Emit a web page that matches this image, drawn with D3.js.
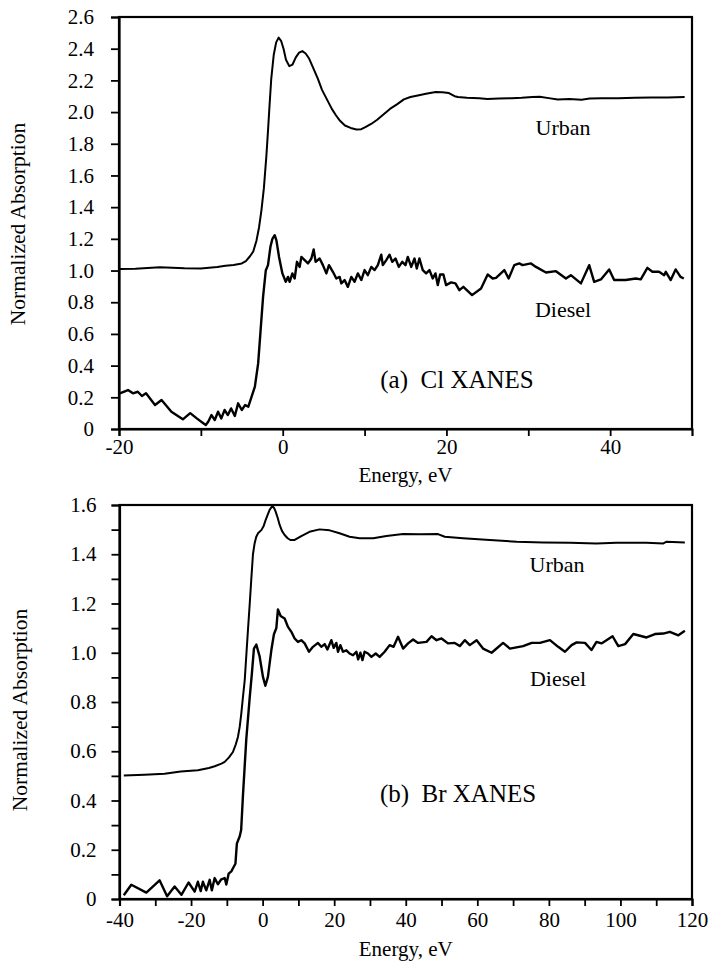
<!DOCTYPE html>
<html><head><meta charset="utf-8">
<script src="https://cdn.jsdelivr.net/npm/d3@7"></script>
<style>
html,body{margin:0;padding:0;background:#fff;}
svg{display:block;}
text{font-family:"Liberation Serif","DejaVu Serif",serif;fill:#000;}
</style></head>
<body>
<script>
// ---------------- DATA ----------------
// Panel (a) Cl XANES
const clUrbanE = [-19.9,-18,-15,-12,-10,-8,-7,-6,-5,-4.5,-4.0,-3.6,-3.2,-2.9,-2.6,-2.3,-2.0,-1.8,-1.6,-1.4,-1.1,-0.8,-0.5,-0.2,0.1,0.4,0.8,1.2,1.6,2.0,2.4,2.8,3.2,3.8,4.3,4.8,5.4,6.0,6.5,7.0,7.6,8.3,9.0,9.6,10.1,10.8,11.5,12.3,13.1,14,14.8,15.6,16.5,17.5,18.7,19.5,20.3,21,21.4,22.5,24,25,26.4,28,29.2,30.5,31.4,32.5,33.6,35,36.5,37.5,39,41,43,45,47,49.1];
const clUrbanA = [1.01,1.012,1.02,1.014,1.013,1.022,1.03,1.035,1.045,1.06,1.09,1.12,1.19,1.27,1.38,1.52,1.72,1.88,2.05,2.21,2.36,2.44,2.47,2.45,2.40,2.33,2.29,2.30,2.345,2.375,2.385,2.37,2.34,2.27,2.21,2.14,2.08,2.02,1.98,1.945,1.915,1.90,1.89,1.892,1.905,1.925,1.95,1.985,2.02,2.05,2.08,2.095,2.105,2.115,2.127,2.125,2.12,2.10,2.095,2.09,2.088,2.082,2.085,2.088,2.09,2.095,2.097,2.088,2.08,2.082,2.078,2.085,2.087,2.088,2.09,2.092,2.092,2.095];
const clDieselE = [-19.9,-18.9,-18.3,-17.7,-17.2,-16.7,-15.6,-14.8,-13.6,-12.2,-11.3,-10.5,-9.7,-9.4,-9.1,-8.7,-8.3,-7.9,-7.5,-7.1,-6.7,-6.3,-5.85,-5.45,-5.0,-4.6,-4.2,-3.8,-3.4,-3.0,-2.7,-2.4,-2.07,-1.8,-1.5,-1.26,-0.98,-0.77,-0.45,-0.04,0.37,0.65,0.85,1.18,1.46,1.74,2.07,2.28,2.68,3.09,3.5,3.78,4.02,4.51,4.91,5.33,5.65,6.13,6.55,6.95,7.16,7.56,7.96,8.38,8.78,9.18,9.6,10.0,10.4,10.82,11.22,11.62,12.04,12.23,12.65,13.05,13.38,13.78,14.18,14.6,15.0,15.28,15.7,16.1,16.38,16.7,17.11,17.52,17.93,18.33,18.66,18.94,19.23,19.63,19.96,20.57,21.1,21.58,22.07,23.13,24.23,25.04,25.65,26.06,27.07,27.6,28.29,28.9,29.3,30.33,30.94,32.16,33.38,34.6,35.2,36.43,37.44,38.05,38.87,39.88,40.49,41.9,43.13,43.74,44.55,45.16,45.98,46.6,46.8,47.4,48.0,48.6,49.0];
const clDieselA = [0.225,0.246,0.225,0.235,0.208,0.225,0.151,0.183,0.109,0.061,0.100,0.067,0.036,0.025,0.046,0.088,0.057,0.109,0.067,0.12,0.088,0.13,0.082,0.162,0.12,0.151,0.141,0.204,0.267,0.414,0.624,0.834,1.0,1.034,1.15,1.2,1.223,1.19,1.086,0.982,0.929,0.96,0.929,0.982,0.95,1.055,1.023,1.086,1.066,1.045,1.076,1.133,1.055,1.076,1.034,0.982,1.034,0.992,0.95,0.96,0.919,0.94,0.897,0.96,0.929,0.982,0.94,1.003,0.971,1.023,1.003,1.034,1.1,1.034,1.066,1.1,1.055,1.076,1.023,1.055,1.034,1.086,1.023,1.076,1.013,1.076,1.003,0.982,1.003,0.95,0.982,0.908,0.975,0.975,0.908,0.925,0.919,0.876,0.897,0.845,0.887,0.975,0.95,0.954,1.003,0.95,1.034,1.045,1.034,1.045,1.023,0.988,0.996,0.95,0.971,0.919,1.034,0.929,0.944,1.007,0.94,0.94,0.95,0.944,1.017,0.992,0.992,0.971,0.992,0.94,1.007,0.96,0.95];

// Panel (b) Br XANES
const brUrbanE = [-38.8,-33,-27.4,-22.9,-18.1,-15,-13.4,-11.5,-10.6,-9.4,-8.3,-7.5,-6.9,-6.4,-5.96,-5.5,-5.0,-4.6,-4.1,-3.6,-3.16,-2.7,-2.24,-1.8,-1.3,-0.36,0.3,0.84,1.4,1.96,2.7,3.2,3.64,4.2,4.76,5.4,6.15,7.0,7.75,8.95,10.8,13.1,15.9,18.74,21.5,24.3,27.1,30.9,34.6,39.25,43.9,49.0,50.9,56,63.5,71,78.4,85.9,93.3,98.9,107.3,112,112.9,118];
const brUrbanA = [0.502,0.505,0.509,0.518,0.523,0.532,0.539,0.55,0.557,0.575,0.597,0.628,0.658,0.70,0.753,0.82,0.889,0.98,1.092,1.20,1.30,1.40,1.444,1.47,1.485,1.498,1.515,1.539,1.56,1.58,1.596,1.588,1.573,1.548,1.519,1.495,1.478,1.465,1.458,1.458,1.474,1.491,1.501,1.497,1.485,1.471,1.465,1.465,1.474,1.482,1.481,1.482,1.471,1.465,1.458,1.451,1.448,1.447,1.444,1.447,1.447,1.444,1.451,1.448];
const brDieselE = [-38.8,-36.7,-32.5,-28.8,-26.7,-24.6,-22.7,-20.7,-19.0,-18.1,-17.3,-16.7,-15.75,-14.8,-14.2,-13.4,-12.5,-11.55,-10.6,-10.15,-9.5,-8.75,-8.1,-7.6,-7.2,-6.4,-6.0,-5.5,-4.56,-3.6,-3.0,-2.43,-1.76,-0.84,0.09,0.76,1.48,2.43,3.16,3.83,4.28,5.03,6.15,7.08,8.03,8.95,9.88,10.8,11.75,12.95,14.07,15.47,16.4,17.34,18.1,19.2,19.86,20.6,21.06,21.73,22.46,23.4,24.3,25.26,26.2,26.7,27.33,27.9,28.5,29.45,30.4,31.6,32.7,34.1,35.5,36.6,37.85,39.25,40.65,42.05,43.44,45.8,47.2,48.6,50.0,51.8,53.7,55.1,56.5,57.9,59.8,61.6,64.0,67.2,69.1,72.8,75.2,77.5,80.3,82.6,84.5,86.35,87.75,90.1,91.9,93.3,94.7,96.1,97.8,99.4,101.3,103.6,107.3,109.65,111.98,113.8,116.2,118.0];
const brDieselA = [0.015,0.058,0.026,0.076,0.011,0.051,0.017,0.067,0.03,0.07,0.032,0.07,0.035,0.078,0.035,0.085,0.06,0.08,0.085,0.059,0.103,0.112,0.13,0.143,0.225,0.255,0.28,0.42,0.65,0.82,0.916,1.017,1.033,0.985,0.902,0.866,0.902,1.01,1.075,1.10,1.176,1.149,1.139,1.105,1.085,1.058,1.044,1.051,1.038,1.004,1.024,1.04,1.024,1.035,1.013,1.051,1.02,1.04,1.004,1.031,1.004,1.01,0.997,0.99,1.004,0.973,1.0,0.97,1.004,0.997,0.983,0.997,0.983,1.004,1.031,1.024,1.065,1.017,1.038,1.054,1.04,1.044,1.067,1.051,1.058,1.038,1.04,1.027,1.051,1.031,1.051,1.017,1.0,1.04,1.017,1.027,1.04,1.04,1.051,1.024,1.004,1.031,1.042,1.04,1.011,1.044,1.038,1.051,1.067,1.027,1.035,1.076,1.062,1.076,1.078,1.085,1.071,1.089];

const clXTicks = [-20,-10,0,10,20,30,40];
const clXLabels = [-20,0,20,40];
const clYTicks = [0,0.2,0.4,0.6,0.8,1.0,1.2,1.4,1.6,1.8,2.0,2.2,2.4,2.6];
const brXTicks = [-40,-30,-20,-10,0,10,20,30,40,50,60,70,80,90,100,110,120];
const brXLabels = [-40,-20,0,20,40,60,80,100,120];
const brYTicks = [0,0.1,0.2,0.3,0.4,0.5,0.6,0.7,0.8,0.9,1.0,1.1,1.2,1.3,1.4,1.5,1.6];
const brYLabels = [0,0.2,0.4,0.6,0.8,1.0,1.2,1.4,1.6];

// ---------------- DRAW ----------------
const W = 710, H = 961;
const svg = d3.select("body").append("svg").attr("width", W).attr("height", H);

function fmtY(v){ return Math.abs(v) < 1e-9 ? "0" : v.toFixed(1); }

function panel(cfg){
  const x = d3.scaleLinear().domain(cfg.xDomain).range([cfg.left, cfg.right]);
  const y = d3.scaleLinear().domain(cfg.yDomain).range([cfg.bottom, cfg.top]);
  const g = svg.append("g");

  const xAxis = d3.axisBottom(x).tickValues(cfg.xTicks).tickSize(7).tickPadding(cfg.xPad)
    .tickFormat(d => cfg.xLabels.includes(d) ? String(d) : "");
  const gx = g.append("g").attr("transform", `translate(0,${cfg.bottom})`).call(xAxis);
  gx.select(".domain").attr("stroke-width", 2.2);
  gx.selectAll(".tick line").attr("stroke-width", 1.8);
  gx.selectAll(".tick text").attr("font-size", 21);

  const yAxis = d3.axisLeft(y).tickValues(cfg.yTicks).tickSize(8).tickPadding(cfg.yPad)
    .tickFormat(d => cfg.yLabels.some(v => Math.abs(v - d) < 1e-9) ? fmtY(d) : "");
  const gy = g.append("g").attr("transform", `translate(${cfg.left},0)`).call(yAxis);
  gy.select(".domain").attr("stroke-width", 2.2);
  gy.selectAll(".tick line").attr("stroke-width", 1.8);
  gy.selectAll(".tick text").attr("font-size", 21);

  // frame (top and right edges)
  g.append("rect").attr("x", cfg.left).attr("y", cfg.top)
    .attr("width", cfg.right - cfg.left).attr("height", cfg.bottom - cfg.top)
    .attr("fill", "none").attr("stroke", "#000").attr("stroke-width", 2.2);

  const line = d3.line().x(d => x(d[0])).y(d => y(d[1]));
  cfg.series.forEach(s => {
    const pts = s.e.map((e, i) => [e, s.a[i]]);
    g.append("path").datum(pts).attr("d", line)
      .attr("fill", "none").attr("stroke", "#000")
      .attr("stroke-width", s.w).attr("stroke-linejoin", "round");
  });

  // texts
  g.append("text").attr("transform", `translate(${cfg.ylabX},${cfg.ylabY}) rotate(-90)`)
    .attr("text-anchor", "middle").attr("font-size", 21.5).text("Normalized Absorption");
  g.append("text").attr("x", (cfg.left + cfg.right) / 2).attr("y", cfg.xlabY)
    .attr("text-anchor", "middle").attr("font-size", 21).text("Energy, eV");
  cfg.labels.forEach(l => {
    g.append("text").attr("x", l.x).attr("y", l.y).attr("text-anchor", "middle")
      .attr("font-size", l.size).text(l.t);
  });
}

panel({
  xDomain: [-20, 50], yDomain: [0, 2.6],
  left: 119, right: 692, top: 17, bottom: 429,
  xTicks: clXTicks, xLabels: clXLabels, yTicks: clYTicks, yLabels: clYTicks,
  xPad: 3, yPad: 17,
  series: [{e: clUrbanE, a: clUrbanA, w: 2}, {e: clDieselE, a: clDieselA, w: 2.4}],
  ylabX: 25, ylabY: 224, xlabY: 482,
  labels: [
    {t: "Urban", x: 563, y: 135, size: 22},
    {t: "Diesel", x: 563, y: 317, size: 22},
    {t: "(a)\u00A0\u00A0Cl XANES", x: 457, y: 388, size: 25}
  ]
});

panel({
  xDomain: [-40, 120], yDomain: [0, 1.6],
  left: 119.5, right: 692, top: 505, bottom: 899,
  xTicks: brXTicks, xLabels: brXLabels, yTicks: brYTicks, yLabels: brYLabels,
  xPad: 6.5, yPad: 15,
  series: [{e: brUrbanE, a: brUrbanA, w: 2}, {e: brDieselE, a: brDieselA, w: 2.4}],
  ylabX: 27, ylabY: 710, xlabY: 956,
  labels: [
    {t: "Urban", x: 557, y: 572, size: 22},
    {t: "Diesel", x: 558, y: 686, size: 22},
    {t: "(b)\u00A0\u00A0Br XANES", x: 458, y: 802, size: 25}
  ]
});
</script>
</body></html>
